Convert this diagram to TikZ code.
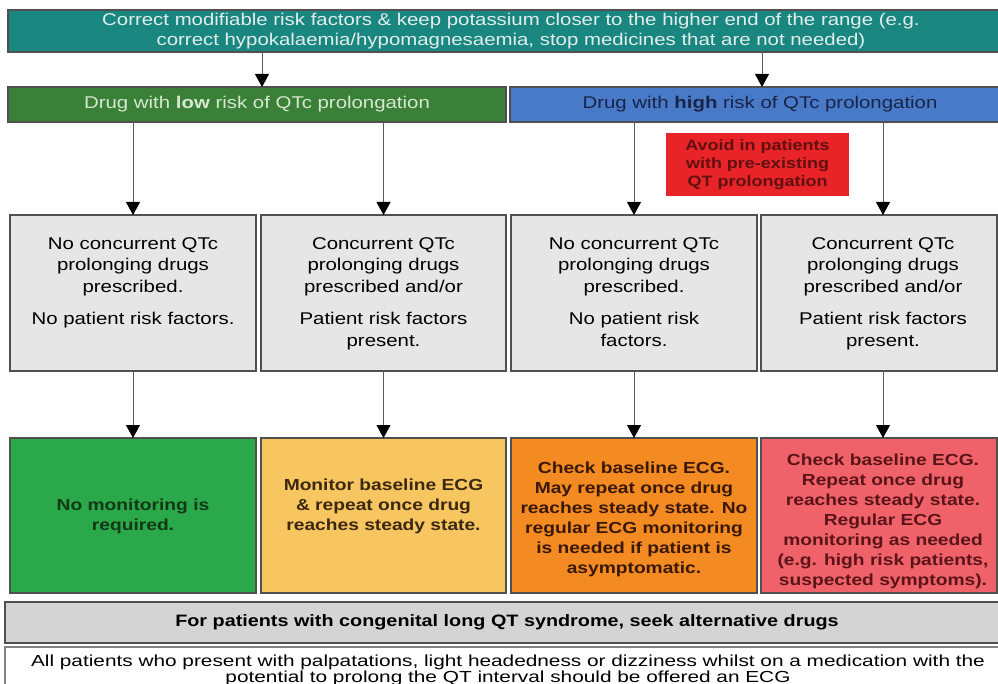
\documentclass[tikz,border=0pt]{standalone}
\usepackage{fontspec}
\setmainfont{Liberation Sans}
\newfontfamily\wf{Liberation Sans}[FakeStretch=1.2]
\newfontfamily\wfb{Liberation Sans}[FakeStretch=1.3]
\usetikzlibrary{arrows.meta}
\definecolor{tealbox}{RGB}{26,134,128}
\definecolor{tealtext}{RGB}{226,238,236}
\definecolor{greenhead}{RGB}{58,128,56}
\definecolor{greenheadtext}{RGB}{214,232,206}
\definecolor{bluehead}{RGB}{72,122,200}
\definecolor{blueheadtext}{RGB}{24,36,72}
\definecolor{redbox}{RGB}{232,36,40}
\definecolor{redtext}{RGB}{96,16,16}
\definecolor{graybox}{RGB}{230,230,230}
\definecolor{grayborder}{RGB}{80,80,80}
\definecolor{linegray}{RGB}{90,90,90}
\definecolor{cgreen}{RGB}{42,168,74}
\definecolor{cyellow}{RGB}{247,198,96}
\definecolor{corange}{RGB}{243,138,34}
\definecolor{cpink}{RGB}{240,98,106}
\definecolor{tgreen}{RGB}{18,56,22}
\definecolor{tyellow}{RGB}{58,40,16}
\definecolor{torange}{RGB}{58,24,6}
\definecolor{tpink}{RGB}{90,20,24}
\definecolor{barfill}{RGB}{212,212,212}
\tikzset{
  box/.style={draw=grayborder, line width=1.2pt, inner sep=0pt, outer sep=0pt},
  arr/.style={draw=linegray, line width=0.9pt, -{Triangle[width=14pt,length=13pt,color=black]}},
  graytext/.style={align=center, inner sep=0pt, text=black, font=\wf\fontsize{17}{21.5}\selectfont},
  coltext/.style={align=center, inner sep=0pt, font=\wf\bfseries\fontsize{16}{20}\selectfont},
}
\begin{document}
\begin{tikzpicture}[x=1pt,y=-1pt]
\useasboundingbox (0,0) rectangle (998,684);
% top box
\node[box, fill=tealbox, minimum width=1006, minimum height=42, text=tealtext,
      align=center, font=\wf\fontsize{17}{20}\selectfont] (top) at (511,31)
  {Correct modifiable risk factors \& keep potassium closer to the higher end of the range (e.g.\\
   correct hypokalaemia/hypomagnesaemia, stop medicines that are not needed)};
% headers
\node[box, fill=greenhead, minimum width=498, minimum height=35, text=greenheadtext,
      font=\wf\fontsize{17}{20}\selectfont] (hl) at (257,104.5)
  {Drug with \textbf{low} risk of QTc prolongation};
\node[box, fill=bluehead, minimum width=500, minimum height=35, text=blueheadtext,
      font=\wf\fontsize{17}{20}\selectfont] (hh) at (760,104.5)
  {Drug with \textbf{high} risk of QTc prolongation};
% red warning
\node[box, draw=none, fill=redbox, minimum width=183, minimum height=63, text=redtext,
      align=center, font=\wf\bfseries\fontsize{15}{18}\selectfont] (warn) at (757.5,164.5)
  {Avoid in patients\\with pre-existing\\QT prolongation};
% gray condition boxes
\node[box, fill=graybox, minimum width=246, minimum height=156] (g1) at (133,293) {};
\node[box, fill=graybox, minimum width=245, minimum height=156] (g2) at (383.5,293) {};
\node[box, fill=graybox, minimum width=246, minimum height=156] (g3) at (634,293) {};
\node[box, fill=graybox, minimum width=236, minimum height=156] (g4) at (879,293) {};
\node[graytext, anchor=north] (t1) at ([yshift=-22pt]g1.north)
  {No concurrent QTc\\prolonging drugs\\prescribed.\\[11pt]No patient risk factors.};
\node[graytext, anchor=north] (t2) at ([yshift=-22pt]g2.north)
  {Concurrent QTc\\prolonging drugs\\prescribed and/or\\[11pt]Patient risk factors\\present.};
\node[graytext, anchor=north] (t3) at ([yshift=-22pt]g3.north)
  {No concurrent QTc\\prolonging drugs\\prescribed.\\[11pt]No patient risk\\factors.};
\node[graytext, anchor=north] (t4) at ([yshift=-22pt,xshift=4pt]g4.north)
  {Concurrent QTc\\prolonging drugs\\prescribed and/or\\[11pt]Patient risk factors\\present.};
% coloured outcome boxes
\node[box, fill=cgreen, minimum width=246, minimum height=155] (c1) at (133,515.5) {};
\node[box, fill=cyellow, minimum width=245, minimum height=155] (c2) at (383.5,515.5) {};
\node[box, fill=corange, minimum width=246, minimum height=155] (c3) at (634,515.5) {};
\node[box, fill=cpink, minimum width=236, minimum height=155] (c4) at (879,515.5) {};
\node[coltext, text=tgreen] (o1) at ([yshift=-1pt]c1.center)
  {No monitoring is\\required.};
\node[coltext, text=tyellow] (o2) at ([yshift=9pt]c2.center)
  {Monitor baseline ECG\\\& repeat once drug\\reaches steady state.};
\node[coltext, text=torange] (o3) at ([yshift=-4pt]c3.center)
  {Check baseline ECG.\\May repeat once drug\\reaches steady state. No\\regular ECG monitoring\\is needed if patient is\\asymptomatic.};
\node[coltext, text=tpink] (o4) at ([yshift=-6pt,xshift=4pt]c4.center)
  {Check baseline ECG.\\Repeat once drug\\reaches steady state.\\Regular ECG\\monitoring as needed\\(e.g. high risk patients,\\suspected symptoms).};
% bottom bars
\node[box, fill=barfill, minimum width=1004, minimum height=41, text=black,
      font=\wf\bfseries\fontsize{16.5}{20}\selectfont] (bar) at (507,622.5)
  {For patients with congenital long QT syndrome, seek alternative drugs};
\node[box, fill=white, draw=grayborder!70, minimum width=1006, minimum height=46, text=black,
      align=center, font=\wfb\fontsize{16}{16}\selectfont] (note) at (508,670)
  {All patients who present with palpatations, light headedness or dizziness whilst on a medication with the\\
   potential to prolong the QT interval should be offered an ECG};
% connectors
\draw[arr] (top.south -| 262,0) -- (hl.north -| 262,0);
\draw[arr] (top.south -| 762,0) -- (hh.north -| 762,0);
\draw[arr] (hl.south -| g1.north) -- (g1.north);
\draw[arr] (hl.south -| g2.north) -- (g2.north);
\draw[arr] (hh.south -| g3.north) -- (g3.north);
\draw[arr] (hh.south -| 883,0) -- (g4.north -| 883,0);
\draw[arr] (g1.south) -- (c1.north);
\draw[arr] (g2.south) -- (c2.north);
\draw[arr] (g3.south) -- (c3.north);
\draw[arr] (g4.south -| 883,0) -- (c4.north -| 883,0);
\end{tikzpicture}
\end{document}
